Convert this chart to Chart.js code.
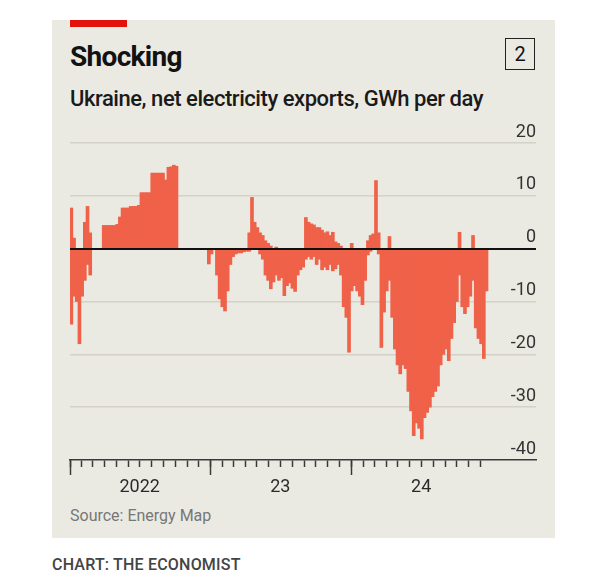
<!DOCTYPE html>
<html>
<head>
<meta charset="utf-8">
<script src="https://cdn.jsdelivr.net/npm/chart.js@4.4.1/dist/chart.umd.min.js"></script>
<style>
html,body{margin:0;padding:0;background:#fff;width:602px;height:588px;overflow:hidden;font-family:Roboto,"Liberation Sans",sans-serif;}
#panel{position:absolute;left:52px;top:20px;width:503px;height:518px;background:#ebeae2;}
#redbar{position:absolute;left:70px;top:20px;width:57px;height:7px;background:#e3120b;}
.t{position:absolute;line-height:1;white-space:nowrap;}
#title{left:70px;top:43px;font-size:28px;font-weight:700;color:#121212;letter-spacing:-0.7px;}
#subtitle{left:70px;top:88px;font-size:22px;font-weight:500;color:#1a1a1a;letter-spacing:-0.45px;}
#num{position:absolute;left:505px;top:38px;width:28px;height:30px;border:1.5px solid #222;font-size:20px;line-height:30px;text-align:center;color:#121212;}
#source{left:70px;top:508px;font-size:16px;color:#777;}
#credit{left:52px;top:557px;font-size:16px;color:#444;font-weight:500;letter-spacing:0.2px;}
#c{position:absolute;left:0;top:0;}
</style>
</head>
<body>
<div id="panel"></div>
<div id="redbar"></div>
<div class="t" id="title">Shocking</div>
<div id="num">2</div>
<div class="t" id="subtitle">Ukraine, net electricity exports, GWh per day</div>
<div class="t" id="source">Source: Energy Map</div>
<div class="t" id="credit">CHART: THE ECONOMIST</div>
<canvas id="c" width="602" height="588"></canvas>
<script>
// Weekly bins starting 2022-01-01 (approximate envelope of daily values)
const exportsHigh = [
  7.7, 2, 0, 0, 0, 5, 8, 3, 0, 0,
  0, 0, 4.4, 4.4, 4.4, 4.4, 4.4, 4.6, 6, 7.7,
  7.7, 7.7, 8, 8, 8, 8.2, 10.6, 10.6, 10.6, 10.6,
  14.3, 14.3, 14.3, 14.3, 14.3, 13, 15.4, 15.5, 15.8, 15.6,
  0, 0, 0, 0, 0, 0, 0, 0, 0, 0,
  0, 0, 0, 0, 0, 0, 0, 0, 0, 0,
  0, 0, 0, 0, 0, 0, 3, 9.7, 5, 4,
  3, 2.5, 1.5, 1, 0.5, 0, 0.3, 0, 0, 0,
  0, 0, 0, 0, 0, 0, 0, 5.9, 5, 4.7,
  4.5, 4, 4, 3.5, 3, 3.2, 2.5, 3.1, 1.3, 1,
  0.5, 0, 0, 0, 1, 0, 0, 0, 0, 0,
  1.5, 2.5, 2.8, 12.9, 3, 0, 0, 0, 2.3, 0,
  0, 0, 0, 0, 0, 0, 0, 0, 0, 0,
  0, 0, 0, 0, 0, 0, 0, 0, 0, 0,
  0, 0, 0, 0, 3.1, 0, 0, 0, 0, 2.5,
  0, 0, 0, 0, 0
];
const exportsLow = [
  -14.3, -9, -10, -18, -9, -6, -3, -5, 0, 0,
  0, 0, 0, 0, 0, 0, 0, 0, 0, 0,
  0, 0, 0, 0, 0, 0, 0, 0, 0, 0,
  0, 0, 0, 0, 0, 0, 0, 0, 0, 0,
  0, 0, 0, 0, 0, 0, 0, 0, 0, 0,
  0, -2.9, -1, 0, -5, -9.5, -11, -11.8, -8, -3,
  -1.5, -1, -0.8, -0.8, -0.6, -0.5, -0.5, 0, 0, 0,
  -1, -2, -5, -6, -7.6, -6.3, -5, -6, -5.5, -8.9,
  -7, -6.5, -7.5, -8.1, -5, -4, -3.5, -2, -1.5, -2,
  -1.5, -3, -2, -4, -3.5, -4, -3, -4.2, -3.8, -3,
  -5, -11, -13, -19.6, -8, -7, -8, -9, -10.6, -6,
  -1.2, -0.5, 0, 0, -1, -18.7, -12, -8, -6, -13,
  -19, -22, -23.7, -22, -22.7, -27, -30.7, -35.4, -33, -34,
  -36, -32, -31, -30, -28, -27, -26, -22, -20, -19,
  -21.2, -17, -14, -10, -5, -11, -12.3, -11, -9, -6,
  -15, -17, -18, -20.8, -8
];
const yearLabels = ['2022', '23', '24'];
const years = [2022, 2023, 2024];
const yTickValues = [-40, -30, -20, -10, 0, 10, 20];

const DAY = 86400000;
const origin = Date.UTC(2022, 0, 1);
const dayOf = (y, m) => Math.round((Date.UTC(y, m, 1) - origin) / DAY);
const monthTicks = [];
years.forEach(y => { for (let m = 0; m < 12; m++) monthTicks.push(dayOf(y, m)); });
const yearTicks = years.map(y => dayOf(y, 0));
const labelTicks = {};
years.forEach((y, i) => { labelTicks[dayOf(y, 6)] = yearLabels[i]; });

const highPts = exportsHigh.map((v, i) => ({x: i * 7 + 3.5, y: v}));
const lowPts = exportsLow.map((v, i) => ({x: i * 7 + 3.5, y: v}));
const BAR = '#ef6148';

new Chart(document.getElementById('c'), {
  type: 'bar',
  data: {
    datasets: [
      {data: highPts, backgroundColor: BAR, borderWidth: 0, barThickness: 3, grouped: false},
      {data: lowPts, backgroundColor: BAR, borderWidth: 0, barThickness: 3, grouped: false}
    ]
  },
  options: {
    responsive: false,
    animation: false,
    devicePixelRatio: 1,
    layout: {padding: {left: 70, right: 66, top: 143, bottom: 88}},
    plugins: {legend: {display: false}, tooltip: {enabled: false}},
    scales: {
      x: {
        type: 'linear', position: 'bottom', min: 0, max: 1210, offset: false,
        afterBuildTicks: s => { s.ticks = monthTicks.map(v => ({value: v})); },
        afterFit: s => { s.height = 40; },
        ticks: {
          autoSkip: false, maxRotation: 0, minRotation: 0, padding: 10,
          color: '#2b2b2b', font: {family: 'Roboto', size: 18},
          callback: v => labelTicks[v] || ''
        },
        grid: {offset: false, drawOnChartArea: false, drawTicks: true, tickLength: 7, tickColor: '#3a3a3a', tickWidth: 1.5},
        border: {display: true, color: '#3a3a3a', width: 1.5}
      },
      x2: {
        type: 'linear', axis: 'x', position: {y: -40}, min: 0, max: 1210, offset: false,
        afterBuildTicks: s => { s.ticks = yearTicks.map(v => ({value: v})); },
        ticks: {display: false},
        grid: {offset: false, drawOnChartArea: false, drawTicks: true, tickLength: 15, tickColor: '#3a3a3a', tickWidth: 1.5},
        border: {display: false}
      },
      y: {
        type: 'linear', position: 'right', min: -40, max: 20,
        afterBuildTicks: s => { s.ticks = yTickValues.map(v => ({value: v})); },
        afterFit: s => { s.width = 0; },
        ticks: {mirror: true, padding: 0, labelOffset: -11, color: '#333', font: {family: 'Roboto', size: 18}},
        grid: {color: c => (c.tick && c.tick.value === -40) ? 'rgba(0,0,0,0)' : '#d3d1c8', lineWidth: 1.5, drawTicks: false},
        border: {display: false}
      },
      y0: {
        type: 'linear', position: 'left', min: -40, max: 20,
        afterBuildTicks: s => { s.ticks = [{value: 0}]; },
        afterFit: s => { s.width = 0; },
        ticks: {display: false},
        grid: {z: 1, color: '#111', lineWidth: 2, drawTicks: false},
        border: {display: false}
      }
    }
  }
});
</script>
</body>
</html>
